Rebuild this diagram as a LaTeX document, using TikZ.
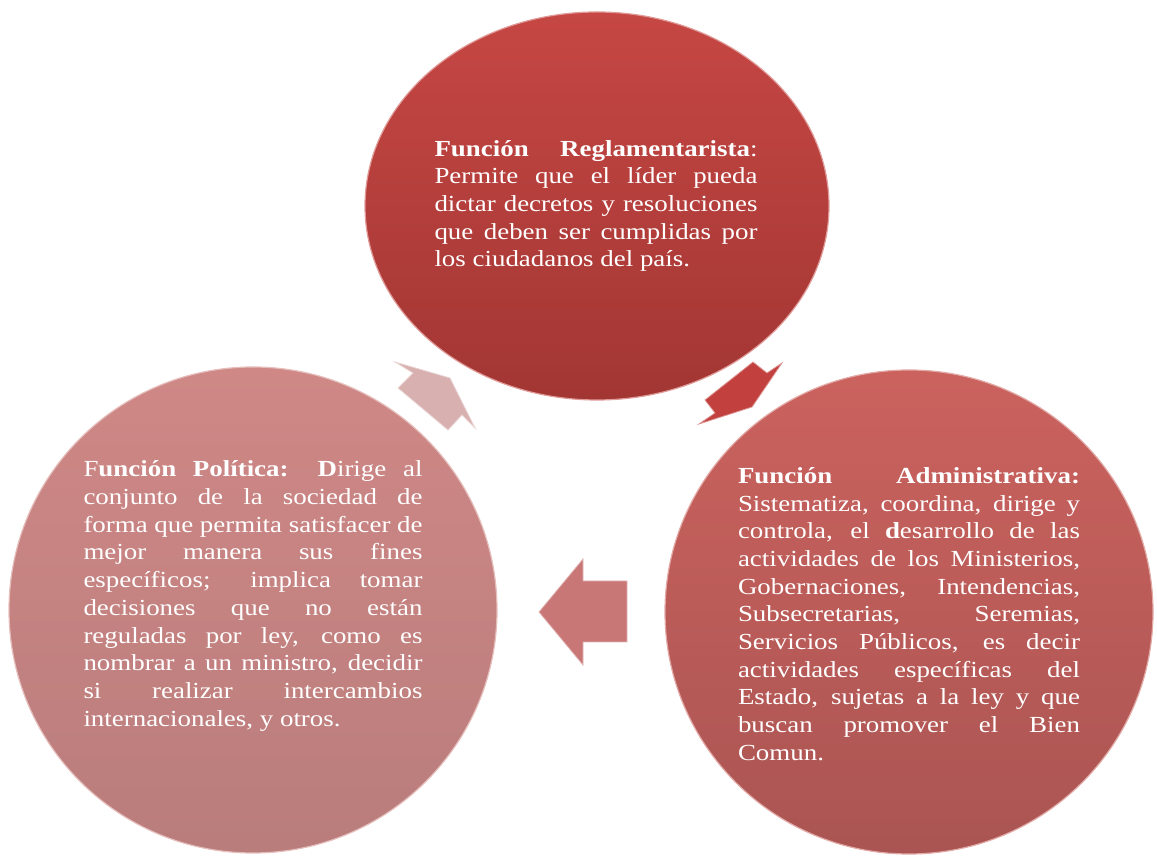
\documentclass[tikz,border=0pt]{standalone}
\usepackage{fontspec}
\setmainfont{Liberation Serif}[FakeStretch=1.17]
\usepackage{tikz}
\usetikzlibrary{shapes.geometric}

\definecolor{regTop}{HTML}{C64744}
\definecolor{regBot}{HTML}{A23633}
\definecolor{admTop}{HTML}{CB625E}
\definecolor{admBot}{HTML}{AA5553}
\definecolor{polTop}{HTML}{CF8886}
\definecolor{polBot}{HTML}{B97D7C}
\definecolor{arrA}{HTML}{C2403D}
\definecolor{arrB}{HTML}{C97776}
\definecolor{arrC}{HTML}{D9B0B0}

\newcommand\looselines{\tolerance=10000\relax\hbadness=10000\relax}

\begin{document}
\begin{tikzpicture}[x=1pt,y=1pt,
  bubble/.style={ellipse,inner sep=0pt,line width=1.2pt},
  txt/.style={text=white,align=justify,inner sep=0pt,
    font=\fontsize{23}{27.7}\selectfont\looselines},
  blockarrow/.style={line width=0.8pt,draw=#1!55!white,fill=#1}]
\useasboundingbox (0,0) rectangle (1157,856);

\node [bubble,minimum width=464pt,minimum height=388pt,top color=regTop,bottom color=regBot,draw=regTop!55!white] (v1) at (597,650) {};
\node [bubble,minimum width=488pt,minimum height=484pt,top color=admTop,bottom color=admBot,draw=admTop!55!white] (v2) at (909,244) {};
\node [bubble,minimum width=488pt,minimum height=486pt,top color=polTop,bottom color=polBot,draw=polTop!55!white] (v3) at (253,246) {};

\node [txt,text width=323pt] (t1) at (596,650) {\textbf{Función Reglamentarista}:\linebreak
Permite que el líder pueda\linebreak
dictar decretos y resoluciones\linebreak
que deben ser cumplidas por\linebreak
los ciudadanos del país.};

\node [txt,text width=342pt] (t2) at (909,242) {\textbf{Función Administrativa:}\linebreak
Sistematiza, coordina, dirige y\linebreak
controla, el \textbf{d}esarrollo de las\linebreak
actividades de los Ministerios,\linebreak
Gobernaciones, Intendencias,\linebreak
Subsecretarias, Seremias,\linebreak
Servicios Públicos, es decir\linebreak
actividades específicas del\linebreak
Estado, sujetas a la ley y que\linebreak
buscan promover el Bien\linebreak
Comun.};

\node [txt,text width=339pt] (t3) at (253,260) {F\textbf{unción Política: D}irige al\linebreak
conjunto de la sociedad de\linebreak
forma que permita satisfacer de\linebreak
mejor manera sus fines\linebreak
específicos; implica tomar\linebreak
decisiones que no están\linebreak
reguladas por ley, como es\linebreak
nombrar a un ministro, decidir\linebreak
si realizar intercambios\linebreak
internacionales, y otros.};

\draw [blockarrow=arrA] (705,456) -- (753,494) -- (767,483) -- (782,493) -- (752,449) -- (699,432) -- (715,443) -- cycle;
\draw [blockarrow=arrB] (539,244) -- (583,297) -- (583,275) -- (627,275) -- (627,214) -- (583,214) -- (583,191) -- cycle;
\draw [blockarrow=arrC] (395,494) -- (450,478) -- (475,428) -- (462,441) -- (448,426) -- (398,468) -- (413,483) -- cycle;
\end{tikzpicture}
\end{document}
